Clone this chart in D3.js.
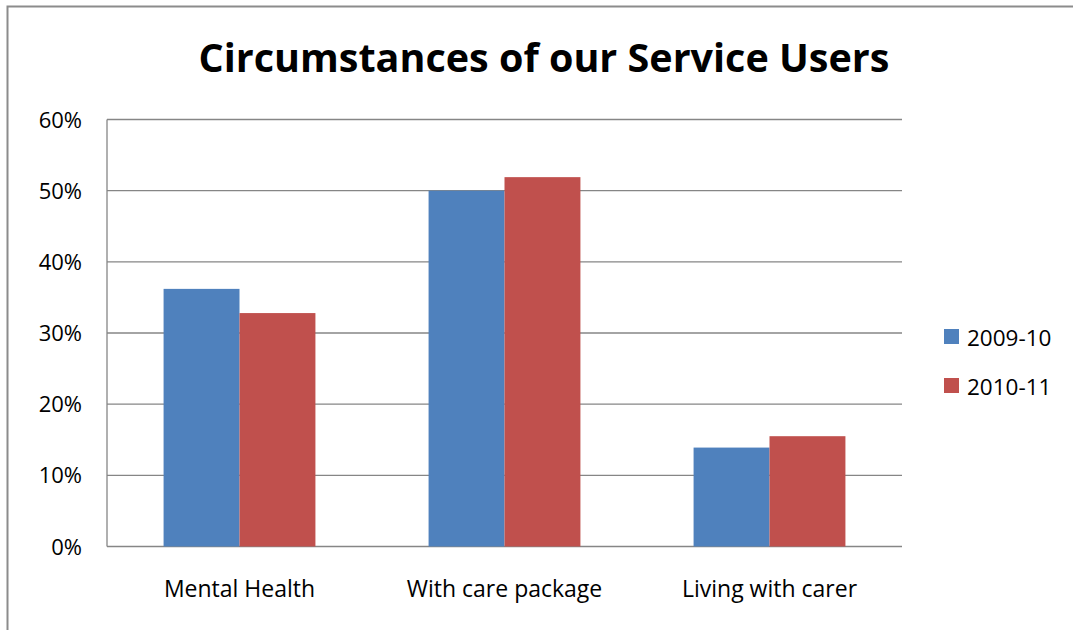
<!DOCTYPE html>
<html>
<head>
<meta charset="utf-8">
<script src="https://cdn.jsdelivr.net/npm/d3@7"></script>
<style>
  body { margin: 0; background: #fff; }
  text { font-family: "Open Sans", Lato, sans-serif; fill: #000; }
</style>
</head>
<body>
<script>
// chart data
var categories = ["Mental Health", "With care package", "Living with carer"];
var seriesNames = ["2009-10", "2010-11"];
var values2009 = [0.362, 0.50, 0.139];
var values2010 = [0.328, 0.519, 0.155];
var yTicks = [0, 0.1, 0.2, 0.3, 0.4, 0.5, 0.6];
var colors = ["#4f81bd", "#c0504d"];

var width = 1073,
    height = 630;

var svg = d3.select("body")
    .append("svg")
    .attr("width", width)
    .attr("height", height);

// outer chart border
svg.append("rect")
    .attr("x", 7.5)
    .attr("y", 6.5)
    .attr("width", 1100)
    .attr("height", 700)
    .attr("fill", "none")
    .attr("stroke", "#8c8c8c")
    .attr("stroke-width", 2);

var plotLeft = 107, plotRight = 902, plotTop = 119.5, plotBottom = 546.5;

var y = d3.scaleLinear()
    .domain([0, 0.6])
    .range([plotBottom, plotTop]);

var x0 = d3.scaleBand()
    .domain(categories)
    .range([plotLeft, plotRight])
    .paddingInner(0.427)
    .paddingOuter(0.2135);

var x1 = d3.scaleBand()
    .domain(seriesNames)
    .range([0, x0.bandwidth()]);

// gridlines
svg.selectAll(".grid")
    .data(yTicks)
    .enter()
    .append("line")
    .attr("class", "grid")
    .attr("x1", plotLeft)
    .attr("x2", plotRight)
    .attr("y1", function(d){ return y(d); })
    .attr("y2", function(d){ return y(d); })
    .attr("stroke", "#868686")
    .attr("stroke-width", 1.3);

// y axis line
svg.append("line")
    .attr("x1", plotLeft).attr("x2", plotLeft)
    .attr("y1", plotTop).attr("y2", plotBottom)
    .attr("stroke", "#868686")
    .attr("stroke-width", 1.3);

svg.selectAll(".ylab")
    .data(yTicks)
    .enter()
    .append("text")
    .attr("class", "ylab")
    .attr("x", 82)
    .attr("y", function(d){ return y(d) + 8; })
    .attr("text-anchor", "end")
    .style("font-size", "22px")
    .text(d3.format(".0%"));

// bars
var rows = categories.map(function(c, i){
    return { cat: c, vals: [values2009[i], values2010[i]] };
});

var groups = svg.selectAll(".group")
    .data(rows)
    .enter()
    .append("g")
    .attr("class", "group")
    .attr("transform", function(d){ return "translate(" + x0(d.cat) + ",0)"; });

groups.selectAll("rect")
    .data(function(d){
        return d.vals.map(function(v, j){ return { name: seriesNames[j], v: v, j: j }; });
    })
    .enter()
    .append("rect")
    .attr("x", function(d){ return x1(d.name); })
    .attr("width", x1.bandwidth())
    .attr("y", function(d){ return y(d.v); })
    .attr("height", function(d){ return plotBottom - y(d.v); })
    .attr("fill", function(d){ return colors[d.j]; });

// category labels
svg.selectAll(".xlab")
    .data(categories)
    .enter()
    .append("text")
    .attr("class", "xlab")
    .attr("x", function(d){ return x0(d) + x0.bandwidth() / 2; })
    .attr("y", 597)
    .attr("text-anchor", "middle")
    .style("font-size", "23px")
    .text(function(d){ return d; });

// title
svg.append("text")
    .attr("x", 544)
    .attr("y", 72)
    .attr("text-anchor", "middle")
    .style("font-size", "39.5px")
    .style("font-weight", "bold")
    .text("Circumstances of our Service Users");

// legend
var legend = svg.selectAll(".legend")
    .data(seriesNames)
    .enter()
    .append("g")
    .attr("class", "legend")
    .attr("transform", function(d, i){ return "translate(944," + (329 + i * 49) + ")"; });

legend.append("rect")
    .attr("width", 15)
    .attr("height", 15)
    .attr("fill", function(d, i){ return colors[i]; });

legend.append("text")
    .attr("x", 23)
    .attr("y", 17)
    .style("font-size", "22.5px")
    .text(function(d){ return d; });
</script>
</body>
</html>
